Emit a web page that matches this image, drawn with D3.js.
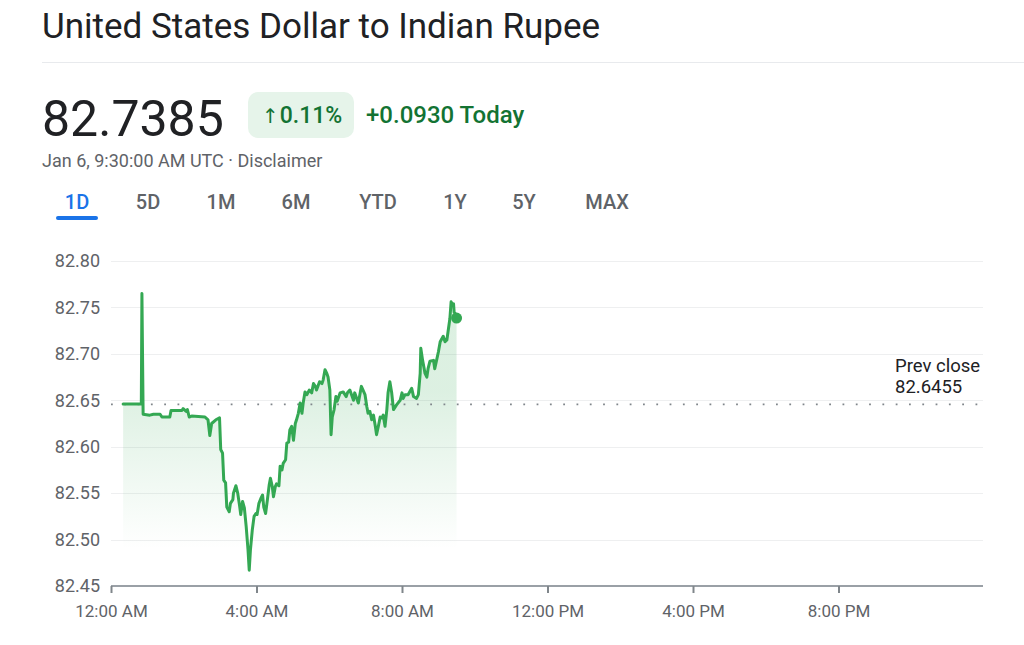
<!DOCTYPE html>
<html>
<head>
<meta charset="utf-8">
<script src="https://cdn.jsdelivr.net/npm/d3@7/dist/d3.min.js"></script>
<style>
  html, body { margin: 0; padding: 0; background: #fff; }
  svg { display: block; font-family: Roboto, "Noto Sans", Arial, sans-serif; }
</style>
</head>
<body>
<svg id="chart" width="1024" height="645"></svg>
<script>
// ---------------- data ----------------
const title = "United States Dollar to Indian Rupee";
const lastPrice = "82.7385";
const changePct = "0.11%";
const changeAbs = "+0.0930 Today";
const stamp = "Jan 6, 9:30:00 AM UTC · Disclaimer";
const tabs = ["1D", "5D", "1M", "6M", "YTD", "1Y", "5Y", "MAX"];
const prevClose = 82.6455;

// minutes after midnight (UTC)
const minutes = [
  20, 50, 51, 53, 64, 70, 81, 84, 97, 99, 117, 119, 124, 126, 129, 133, 155, 160, 163, 166, 173, 179,
  181, 184, 186, 189, 191, 195, 197, 201, 202, 206, 209, 212, 214, 217, 220, 223, 226, 228, 230, 233,
  236, 239, 241, 244, 247, 250, 252, 255, 258, 261, 263, 266, 268, 271, 273, 277, 279, 282, 284, 288,
  290, 293, 295, 298, 301, 304, 306, 309, 312, 315, 317, 320, 323, 327, 331, 334, 337, 339, 344, 348,
  350, 353, 356, 358, 361, 363, 365, 368, 371, 373, 378, 383, 388, 390, 394, 400, 402, 408, 413, 419,
  422, 424, 427, 430, 433, 436, 438, 441, 444, 447, 449, 452, 455, 457, 460, 463, 466, 471, 477, 480,
  482, 485, 490, 496, 499, 504, 507, 510, 511, 514, 516, 518, 521, 523, 526, 532, 534, 537, 540, 543,
  548, 551, 554, 556, 559, 561, 563, 565, 566, 569, 570
];
const rates = [
  82.646, 82.646, 82.765, 82.635, 82.634, 82.635, 82.635, 82.632, 82.632, 82.639, 82.639, 82.641, 82.638, 82.640, 82.632, 82.633, 82.632, 82.629, 82.612, 82.625, 82.629, 82.631,
  82.597, 82.593, 82.564, 82.561, 82.535, 82.530, 82.539, 82.543, 82.550, 82.558, 82.550, 82.537, 82.527, 82.541, 82.534, 82.514, 82.489, 82.467, 82.489, 82.510,
  82.525, 82.528, 82.527, 82.539, 82.544, 82.548, 82.535, 82.528, 82.543, 82.559, 82.566, 82.557, 82.546, 82.557, 82.560, 82.558, 82.579, 82.575, 82.582, 82.586,
  82.604, 82.605, 82.618, 82.622, 82.607, 82.625, 82.629, 82.636, 82.647, 82.636, 82.647, 82.659, 82.656, 82.661, 82.658, 82.668, 82.665, 82.661, 82.670, 82.668,
  82.672, 82.683, 82.679, 82.675, 82.661, 82.613, 82.632, 82.640, 82.654, 82.649, 82.658, 82.659, 82.654, 82.658, 82.661, 82.650, 82.658, 82.647, 82.665, 82.656,
  82.643, 82.636, 82.638, 82.629, 82.634, 82.622, 82.613, 82.622, 82.632, 82.631, 82.634, 82.622, 82.640, 82.658, 82.670, 82.658, 82.640, 82.645, 82.650, 82.658,
  82.652, 82.656, 82.656, 82.663, 82.654, 82.652, 82.656, 82.679, 82.706, 82.693, 82.686, 82.679, 82.675, 82.684, 82.692, 82.693, 82.684, 82.693, 82.702, 82.713,
  82.719, 82.713, 82.715, 82.724, 82.738, 82.756, 82.753, 82.754, 82.745, 82.742, 82.7385
];
const yTicks = [82.45, 82.50, 82.55, 82.60, 82.65, 82.70, 82.75, 82.80];
const xTickMinutes = [0, 240, 480, 720, 960, 1200];
const xTickLabels = ["12:00 AM", "4:00 AM", "8:00 AM", "12:00 PM", "4:00 PM", "8:00 PM"];

const data = minutes.map((m, i) => ({ m, v: rates[i] }));

// ---------------- layout ----------------
const svg = d3.select("#chart");
const green = "#34a853";
const textDark = "#202124";
const textGrey = "#5f6368";

const x = d3.scaleLinear().domain([0, 1440]).range([111, 984]);
const y = d3.scaleLinear().domain([82.45, 82.80]).range([586, 261]);

// ---------------- header ----------------
svg.append("text").attr("x", 42).attr("y", 38)
  .attr("font-size", 35).attr("fill", textDark).text(title);
svg.append("line").attr("x1", 42).attr("x2", 1024).attr("y1", 62.5).attr("y2", 62.5)
  .attr("stroke", "#e8eaed").attr("stroke-width", 1);

svg.append("text").attr("x", 42).attr("y", 136)
  .attr("font-size", 50).attr("fill", textDark).text(lastPrice);

svg.append("rect").attr("x", 248).attr("y", 92).attr("width", 106).attr("height", 46)
  .attr("rx", 10).attr("fill", "#e6f4ea");
const badge = svg.append("text").attr("x", 262).attr("y", 123)
  .attr("font-size", 23).attr("font-weight", 500).attr("fill", "#137333");
badge.append("tspan").attr("font-family", "'DejaVu Sans', sans-serif").attr("font-size", 20).text("\u2191");
badge.append("tspan").attr("dx", 1).text(changePct);

svg.append("text").attr("x", 366).attr("y", 123)
  .attr("font-size", 24).attr("font-weight", 500).attr("fill", "#137333").text(changeAbs);

svg.append("text").attr("x", 42).attr("y", 167)
  .attr("font-size", 18).attr("fill", textGrey).text(stamp);

const tabCenters = [77, 148, 221, 296, 378, 455, 524, 607];
svg.selectAll("text.tab").data(tabs).join("text").attr("class", "tab")
  .attr("x", (d, i) => tabCenters[i]).attr("y", 209)
  .attr("text-anchor", "middle").attr("font-size", 20).attr("font-weight", 500)
  .attr("fill", (d, i) => i === 0 ? "#1a73e8" : textGrey).text(d => d);
svg.append("rect").attr("x", 56).attr("y", 216).attr("width", 42).attr("height", 4)
  .attr("rx", 2).attr("fill", "#1a73e8");

// ---------------- grid ----------------
const gridVals = yTicks.filter(v => v > 82.45);
svg.append("g").selectAll("line").data(gridVals).join("line")
  .attr("x1", 111).attr("x2", 983)
  .attr("y1", d => Math.round(y(d)) + 0.5).attr("y2", d => Math.round(y(d)) + 0.5)
  .attr("stroke", "#eeeff0").attr("stroke-width", 1);

// y axis labels
const yAxis = d3.axisLeft(y).tickValues(yTicks).tickFormat(d3.format(".2f")).tickSize(0).tickPadding(11);
const gy = svg.append("g").attr("transform", "translate(111,0)").call(yAxis);
gy.select(".domain").remove();
gy.selectAll("text").attr("font-size", 18).attr("fill", textGrey)
  .attr("font-family", "Roboto, 'Noto Sans', sans-serif");

// ---------------- area + line ----------------
const defs = svg.append("defs");
const grad = defs.append("linearGradient").attr("id", "fillGrad")
  .attr("gradientUnits", "userSpaceOnUse")
  .attr("x1", 0).attr("x2", 0).attr("y1", y(82.66)).attr("y2", y(82.49));
grad.append("stop").attr("offset", 0).attr("stop-color", green).attr("stop-opacity", 0.17);
grad.append("stop").attr("offset", 1).attr("stop-color", green).attr("stop-opacity", 0.0);

const area = d3.area().x(d => x(d.m)).y0(y(82.45)).y1(d => y(d.v));
svg.append("path").datum(data).attr("d", area).attr("fill", "url(#fillGrad)");

// prev close dotted line
svg.append("line").attr("x1", x(0)).attr("x2", 983)
  .attr("y1", y(prevClose)).attr("y2", y(prevClose))
  .attr("stroke", "#80868b").attr("stroke-width", 1.8)
  .attr("stroke-dasharray", "1.8 11.5");

const line = d3.line().x(d => x(d.m)).y(d => y(d.v));
svg.append("path").datum(data).attr("d", line)
  .attr("fill", "none").attr("stroke", green).attr("stroke-width", 3)
  .attr("stroke-linejoin", "round").attr("stroke-linecap", "round");

const last = data[data.length - 1];
svg.append("circle").attr("cx", x(last.m)).attr("cy", y(last.v)).attr("r", 5.5).attr("fill", green);

// prev close label
svg.append("text").attr("x", 895).attr("y", 372).attr("font-size", 18.5).attr("fill", textDark).text("Prev close");
svg.append("text").attr("x", 895).attr("y", 393).attr("font-size", 18.5).attr("fill", textDark)
  .text(d3.format(".4f")(prevClose));

// ---------------- x axis ----------------
const xAxis = d3.axisBottom(x).tickValues(xTickMinutes)
  .tickFormat((d, i) => xTickLabels[i]).tickSizeInner(7).tickSizeOuter(0).tickPadding(12);
const gx = svg.append("g").attr("transform", "translate(0,586)").call(xAxis);
gx.select(".domain").attr("d", "M111,0H983").attr("stroke", "#9aa0a6").attr("stroke-width", 2);
gx.selectAll(".tick line").attr("stroke", "#80868b").attr("stroke-width", 2);
gx.selectAll("text").attr("font-size", 17).attr("fill", textGrey)
  .attr("font-family", "Roboto, 'Noto Sans', sans-serif");
</script>
</body>
</html>
